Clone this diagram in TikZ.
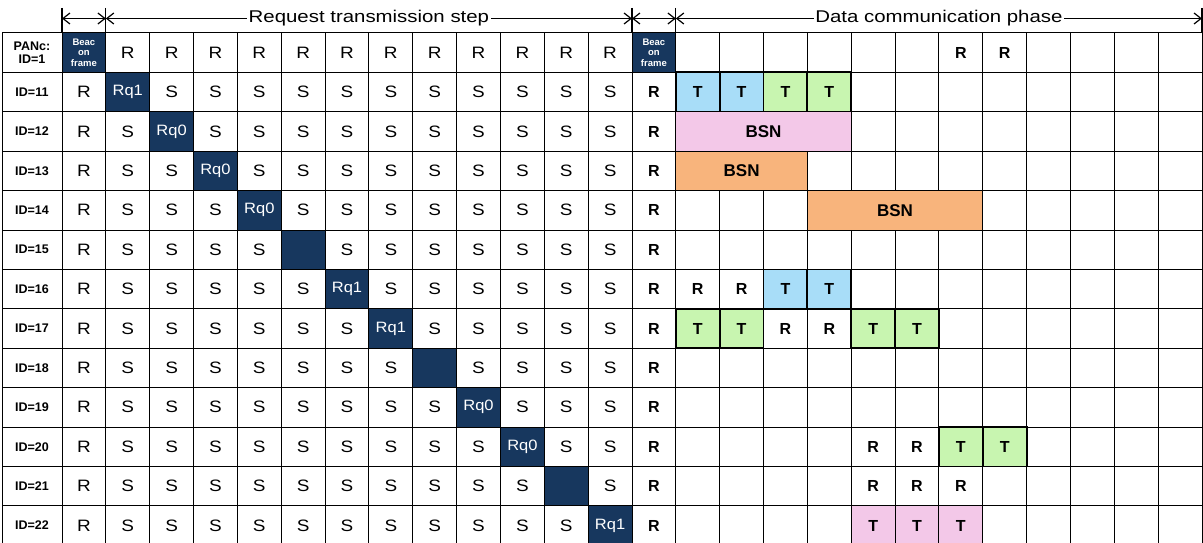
\documentclass[tikz,border=0pt]{standalone}
\usepackage{fontspec}
\setmainfont{Liberation Sans}
\usetikzlibrary{arrows.meta,calc}
\definecolor{navy}{HTML}{17375E}
\definecolor{tblue}{HTML}{A8DDF8}
\definecolor{tgreen}{HTML}{C8F5B0}
\definecolor{tpink}{HTML}{F3C8E8}
\definecolor{torange}{HTML}{F8B47C}
\begin{document}
\begin{tikzpicture}[x=1pt,y=-1pt,
  grid/.style={line width=1pt, black},
  cell/.style={inner sep=0pt, font=\fontsize{16.5}{16.5}\selectfont, xscale=1.15},
  qcell/.style={inner sep=0pt, text=white, font=\fontsize{15}{15}\selectfont, xscale=1.1},
  lab/.style={inner sep=0pt, align=center, font=\bfseries\fontsize{12.5}{13.5}\selectfont},
  beac/.style={inner sep=0pt, align=center, text=white, font=\bfseries\fontsize{9.5}{10.5}\selectfont},
  bcell/.style={inner sep=0pt, font=\bfseries\fontsize{16}{16}\selectfont},
  bsntext/.style={inner sep=0pt, font=\bfseries\fontsize{17}{17}\selectfont},
  tbox/.style={draw=black, line width=1.8pt},
  bsn/.style={draw=black, line width=1pt},
  phase/.style={fill=white, inner sep=1.5pt, font=\fontsize{17}{17}\selectfont, xscale=1.2},
  dim/.style={line width=1.2pt, {Straight Barb[length=7pt,width=11pt]}-{Straight Barb[length=7pt,width=11pt]}},
  tick/.style={line width=1.2pt}
]
\useasboundingbox (0,0) rectangle (1203,543);
\def\colw{43.846}
\def\rowh{39.4}

% navy fills of the header
\fill[navy] (62,33) rectangle ({62+\colw},{33+\rowh});
\fill[navy] ({62+13*\colw},33) rectangle ({62+14*\colw},{33+\rowh});

% header row
\node[lab] (hlab) at (32,{33+0.5*\rowh}) {PANc:\\ID=1};
\node[beac] (hbeac) at ({62+0.5*\colw},{33+0.5*\rowh}) {Beac\\on\\frame};
\node[beac] (hbeac2) at ({62+13.5*\colw},{33+0.5*\rowh}) {Beac\\on\\frame};
\foreach \c in {1,...,12}
  \node[cell] (h\c) at ({62+(\c+0.5)*\colw},{33+0.5*\rowh}) {R};

% left table rows
\foreach \r/\q in {1/Rq1,2/Rq0,3/Rq0,4/Rq0,5/{},6/Rq1,7/Rq1,8/{},9/Rq0,10/Rq0,11/{},12/Rq1}{
  \pgfmathtruncatemacro{\id}{10+\r}
  \fill[navy] ({62+\r*\colw},{33+\r*\rowh}) rectangle ({62+(\r+1)*\colw},{33+(\r+1)*\rowh});
  \node[lab] (l\r) at (32,{33+(\r+0.5)*\rowh}) {ID=\id};
  \node[cell] (b\r) at ({62+0.5*\colw},{33+(\r+0.5)*\rowh}) {R};
  \node[bcell] (rb\r) at ({62+13.5*\colw},{33+(\r+0.5)*\rowh}) {R};
  \foreach \c in {1,...,12}{
    \ifnum\c=\r
      \node[qcell] (s\r-\c) at ({62+(\c+0.5)*\colw},{33+(\r+0.5)*\rowh}) {\q};
    \else
      \node[cell] (s\r-\c) at ({62+(\c+0.5)*\colw},{33+(\r+0.5)*\rowh}) {S};
    \fi
  }
}

% grid
\foreach \r in {0,...,12}
  \draw[grid] (2,{33+\r*\rowh}) -- (1202,{33+\r*\rowh});
\draw[grid] (2,33) -- (2,543);
\foreach \c in {0,...,26}
  \draw[grid] ({62+\c*\colw},33) -- ({62+\c*\colw},543);

% right table coloured blocks
\foreach \r/\a/\b/\s/\f/\t/\ts in {
  1/1/1/tbox/tblue/T/bcell, 1/2/2/tbox/tblue/T/bcell, 1/3/3/tbox/tgreen/T/bcell, 1/4/4/tbox/tgreen/T/bcell,
  2/1/4/bsn/tpink/BSN/bsntext,
  3/1/3/bsn/torange/BSN/bsntext,
  4/4/7/bsn/torange/BSN/bsntext,
  6/3/3/tbox/tblue/T/bcell, 6/4/4/tbox/tblue/T/bcell,
  7/1/1/tbox/tgreen/T/bcell, 7/2/2/tbox/tgreen/T/bcell, 7/5/5/tbox/tgreen/T/bcell, 7/6/6/tbox/tgreen/T/bcell,
  10/7/7/tbox/tgreen/T/bcell, 10/8/8/tbox/tgreen/T/bcell,
  12/5/5/bsn/tpink/T/bcell, 12/6/6/bsn/tpink/T/bcell, 12/7/7/bsn/tpink/T/bcell}{
  \filldraw[\s, fill=\f] ({62+(13+\a)*\colw},{33+\r*\rowh}) rectangle ({62+(14+\b)*\colw},{33+(\r+1)*\rowh});
  \node[\ts] (k\r-\a) at ({62+(13.5+(\a+\b)/2)*\colw},{33+(\r+0.5)*\rowh}) {\t};
}

% right table plain R cells
\foreach \r/\a in {0/7,0/8,6/1,6/2,7/3,7/4,10/5,10/6,11/5,11/6,11/7}
  \node[bcell] (m\r-\a) at ({62+(13.5+\a)*\colw},{33+(\r+0.5)*\rowh}) {R};

% top dimension arrows
\coordinate (p0) at (62,18.5);
\coordinate (p1) at ({62+\colw},18.5);
\coordinate (p2) at ({62+13*\colw},18.5);
\coordinate (p3) at ({62+14*\colw},18.5);
\coordinate (p4) at (1202,18.5);
\foreach \x in {62,105.846,632,675.846,1202}
  \draw[tick] (\x,8) -- (\x,33);
\draw[dim] (p0) -- (p1);
\draw[dim] (p1) -- (p2);
\draw[dim] (p2) -- (p3);
\draw[dim] (p3) -- (p4);
\node[phase] (req) at ($(p1)!0.5!(p2)$) {Request transmission step};
\node[phase] (data) at ($(p3)!0.5!(p4)$) {Data communication phase};
\end{tikzpicture}
\end{document}
